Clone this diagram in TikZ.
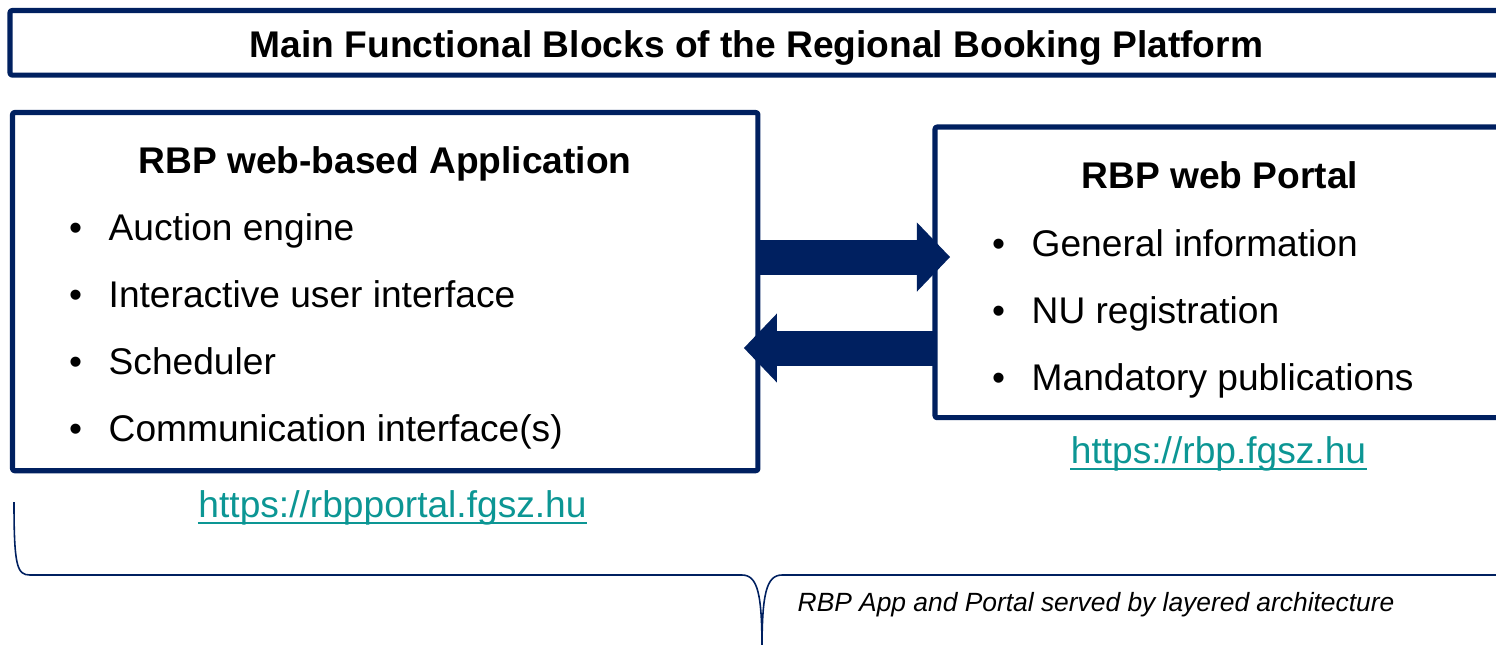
\documentclass[tikz,border=0pt]{standalone}
\usepackage{fontspec}
\setmainfont{Liberation Sans}
\usetikzlibrary{arrows.meta,positioning}
\definecolor{navy}{RGB}{0,32,96}
\definecolor{linkteal}{RGB}{12,150,148}
\newcommand{\rbpfont}{\fontsize{10.56pt}{12.7pt}\selectfont}
\newcommand{\notefont}{\fontsize{7.5pt}{9pt}\selectfont}
\begin{document}
\begin{tikzpicture}[x=0.01cm,y=-0.01cm,line join=round,
	blk/.style={draw=navy,line width=1.45pt,rounded corners=0.6pt,inner sep=0pt,outer sep=0pt,anchor=north west},
	head/.style={font=\rbpfont\bfseries,anchor=base,inner sep=0pt},
	item/.style={font=\rbpfont,anchor=base west,inner sep=0pt},
	url/.style={font=\rbpfont,text=linkteal,anchor=base,inner sep=0pt},
	flow/.style={draw=navy,line width=0.35cm,-{Triangle[length=0.33cm,width=0.69cm,line width=0pt]}},
	brace/.style={draw=navy,line width=0.45pt}]
	\clip (0,0) rectangle (1496,644);
	% frames
	\node[blk,minimum width=15.2cm,minimum height=0.645cm] (ttl) at (10,10.5) {};
	\node[blk,minimum width=7.45cm,minimum height=3.58cm] (app) at (12.5,112.5) {};
	\node[blk,minimum width=5.95cm,minimum height=2.905cm] (portal) at (935,127) {};
	% headings
	\node[head] (ttltxt) at (756.5,57) {Main Functional Blocks of the Regional Booking Platform};
	\node[head] (apptxt) at (385,173) {RBP web-based Application};
	\node[head] (portaltxt) at (1220,188) {RBP web Portal};
	% bullet lists
	\foreach \t [count=\i] in {Auction engine,Interactive user interface,Scheduler,Communication interface(s)}
		\node[item] (a\i) at (108,{173+67*\i}) {\llap{\textbullet\hspace{0.265cm}}\t};
	\foreach \t [count=\i] in {General information,NU registration,Mandatory publications}
		\node[item] (p\i) at (1031,{189+67*\i}) {\llap{\textbullet\hspace{0.265cm}}\t};
	% links
	\node[url] (applink) at (392.5,517) {https://rbpportal.fgsz.hu};
	\node[url] (portallink) at (1218.5,463) {https://rbp.fgsz.hu};
	\draw[linkteal,line width=0.6pt] ([yshift=-0.06cm]applink.base west) -- ([yshift=-0.06cm]applink.base east);
	\draw[linkteal,line width=0.6pt] ([yshift=-0.06cm]portallink.base west) -- ([yshift=-0.06cm]portallink.base east);
	% data flow
	\draw[flow,shorten >=-0.15cm] (app.east |- 0,257) -- (portal.west |- 0,257);
	\draw[flow,shorten >=-0.14cm] (portal.west |- 0,348) -- (app.east |- 0,348);
	% brace
	\draw[brace] (14,502) .. controls (14,566) and (17,575) .. (30,575) -- (742,575)
		.. controls (758,575) and (762,595) .. (762,650);
	\draw[brace] (762,650) .. controls (762,595) and (766,575) .. (782,575) -- (1510,575);
	\node[font=\notefont\itshape,anchor=base west,inner sep=0pt] (note) at (797,611) {RBP App and Portal served by layered architecture};
\end{tikzpicture}
\end{document}
